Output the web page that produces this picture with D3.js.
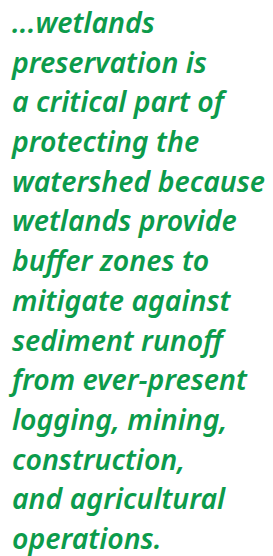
<!DOCTYPE html>
<html>
<head>
<meta charset="utf-8">
<script src="https://cdn.jsdelivr.net/npm/d3@7"></script>
<style>
  html, body { margin: 0; padding: 0; background: #fff; }
  svg { display: block; }
</style>
</head>
<body>
<svg></svg>
<script>
var quoteLines = [
    "...wetlands",
    "preservation is",
    "a critical part of",
    "protecting the",
    "watershed because",
    "wetlands provide",
    "buffer zones to",
    "mitigate against",
    "sediment runoff",
    "from ever-present",
    "logging, mining,",
    "construction,",
    "and agricultural",
    "operations."
];

var width = 273, height = 556;
var textColor = "#0c9b4b";

var svg = d3.select("svg")
    .attr("width", width)
    .attr("height", height);

// baseline of first and last line
var y = d3.scaleLinear()
    .domain([0, quoteLines.length - 1])
    .range([33, 549]);

svg.append("g")
    .selectAll("text")
    .data(quoteLines)
    .enter().append("text")
    .attr("x", 12)
    .attr("y", function(d, i) { return y(i); })
    .style("font-family", "'Noto Sans'")
    .style("font-weight", "600")
    .style("font-style", "italic")
    .style("font-size", "28.5px")
    .style("fill", textColor)
    .text(function(d) { return d; });
</script>
</body>
</html>
